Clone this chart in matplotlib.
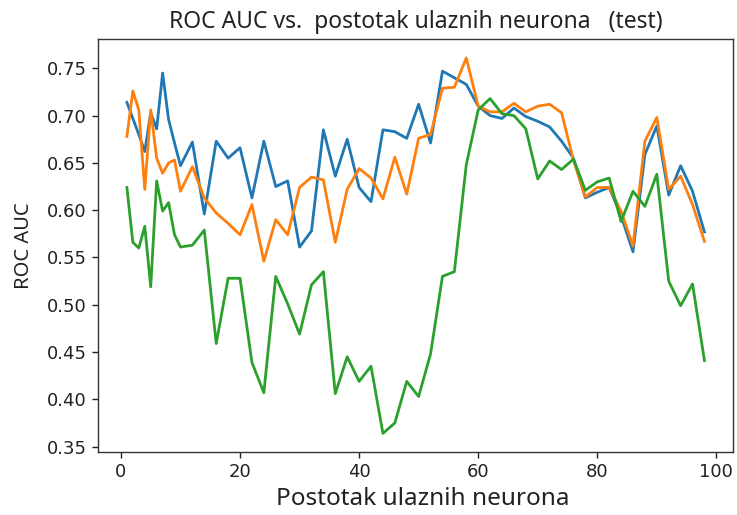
import numpy as np
import matplotlib
matplotlib.use('Agg')
import matplotlib.pyplot as plt

# postotak ulaznih neurona
x = list(range(1, 10)) + list(range(10, 100, 2))

auc_a = [0.714, 0.697, 0.680, 0.662, 0.703, 0.686, 0.745, 0.696, 0.671,
         0.647, 0.672, 0.596, 0.673, 0.655, 0.666, 0.613, 0.673, 0.625, 0.631,
         0.561, 0.578, 0.685, 0.636, 0.675, 0.624, 0.609, 0.685, 0.683, 0.676,
         0.712, 0.671, 0.747, 0.740, 0.733, 0.710, 0.700, 0.697, 0.708, 0.699,
         0.694, 0.688, 0.673, 0.655, 0.613, 0.619, 0.624, 0.594, 0.556, 0.659,
         0.689, 0.616, 0.647, 0.620, 0.577]

auc_b = [0.678, 0.726, 0.706, 0.622, 0.706, 0.655, 0.639, 0.650, 0.653,
         0.620, 0.646, 0.613, 0.597, 0.586, 0.574, 0.606, 0.546, 0.590, 0.574,
         0.624, 0.635, 0.632, 0.566, 0.622, 0.644, 0.634, 0.612, 0.656, 0.617,
         0.676, 0.680, 0.729, 0.730, 0.761, 0.710, 0.704, 0.704, 0.713, 0.704,
         0.710, 0.712, 0.703, 0.653, 0.614, 0.624, 0.624, 0.599, 0.562, 0.673,
         0.698, 0.622, 0.636, 0.606, 0.567]

auc_c = [0.624, 0.566, 0.560, 0.583, 0.519, 0.631, 0.599, 0.608, 0.574,
         0.561, 0.563, 0.579, 0.459, 0.528, 0.528, 0.439, 0.407, 0.530, 0.501,
         0.469, 0.521, 0.535, 0.406, 0.445, 0.419, 0.435, 0.364, 0.375, 0.419,
         0.403, 0.448, 0.530, 0.535, 0.648, 0.706, 0.718, 0.702, 0.700, 0.686,
         0.633, 0.652, 0.643, 0.654, 0.621, 0.630, 0.634, 0.588, 0.620, 0.604,
         0.638, 0.525, 0.499, 0.522, 0.441]

fig = plt.figure(figsize=(7.37, 5.15), dpi=100)
ax = fig.add_axes([0.133, 0.122, 0.862, 0.802])

ax.plot(x, auc_a, color='#1f77b4', lw=2)
ax.plot(x, auc_b, color='#ff7f0e', lw=2)
ax.plot(x, auc_c, color='#2ca02c', lw=2)

ax.set_xticks([0, 20, 40, 60, 80, 100])
ax.set_yticks(np.arange(0.35, 0.76, 0.05))
ax.set_yticklabels(['%.2f' % v for v in np.arange(0.35, 0.76, 0.05)])
ax.tick_params(labelsize=13, length=4.5, width=1, colors='#222222')
for s in ax.spines.values():
    s.set_linewidth(1)
    s.set_color('#333333')

ax.set_title('ROC AUC vs.  postotak ulaznih neurona   (test)',
             fontsize=16.5, family='Noto Sans', color='#222222', pad=8)
ax.set_xlabel('Postotak ulaznih neurona', fontsize=17.5, family='Noto Sans',
              color='#222222', labelpad=8)
ax.xaxis.set_label_coords(0.511, -0.085)
ax.set_ylabel('ROC AUC', fontsize=14.5, family='Noto Sans', color='#222222')
ax.yaxis.set_label_coords(-0.1, 0.5)

plt.savefig('out.png', dpi=100)
